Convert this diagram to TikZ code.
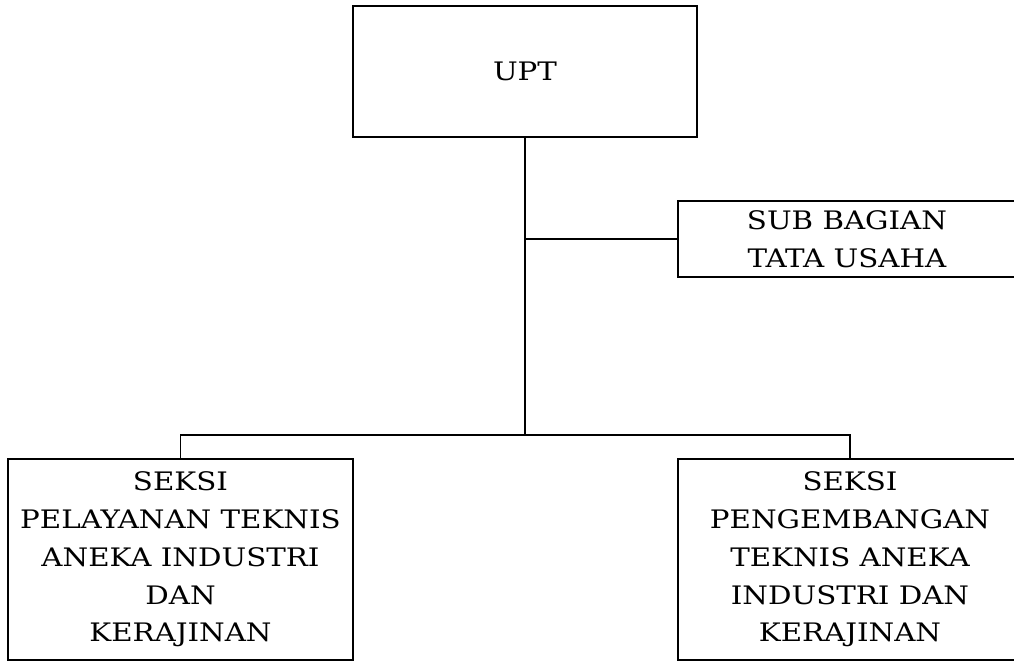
\documentclass[tikz,border=0pt]{standalone}
\usepackage{fontspec}
\setmainfont[FakeStretch=1.15]{DejaVu Serif}
\usetikzlibrary{positioning}

\begin{document}
\begin{tikzpicture}[
    kotak/.style={draw, line width=1.1pt, align=center, font=\fontsize{14.5}{21.5}\selectfont, inner sep=0pt},
    garis/.style={line width=1.1pt}
  ]
    \useasboundingbox (0,0) rectangle (20.28,13.22);
    \node (upt) [kotak, minimum width=6.88cm, minimum height=2.62cm] at (10.5,11.79) {UPT};
    \node (sub) [kotak, minimum width=6.76cm, minimum height=1.52cm] at (16.94,8.44) {SUB BAGIAN\\TATA USAHA};
    \node (kiri) [kotak, minimum width=6.9cm, minimum height=4.02cm] at (3.61,2.03)
      {SEKSI\\PELAYANAN TEKNIS\\ANEKA INDUSTRI\\DAN\\KERAJINAN};
    \node (kanan) [kotak, minimum width=6.88cm, minimum height=4.02cm] at (17.0,2.03)
      {SEKSI\\PENGEMBANGAN\\TEKNIS ANEKA\\INDUSTRI DAN\\KERAJINAN};
    \coordinate (bus) at (10.5,4.52);
    \draw[garis] (upt.south) -- (bus);
    \draw[garis] (upt.south |- sub.west) -- (sub.west);
    \draw[garis] (kiri.north) |- (bus) -| (kanan.north);
  \end{tikzpicture}
\end{document}
